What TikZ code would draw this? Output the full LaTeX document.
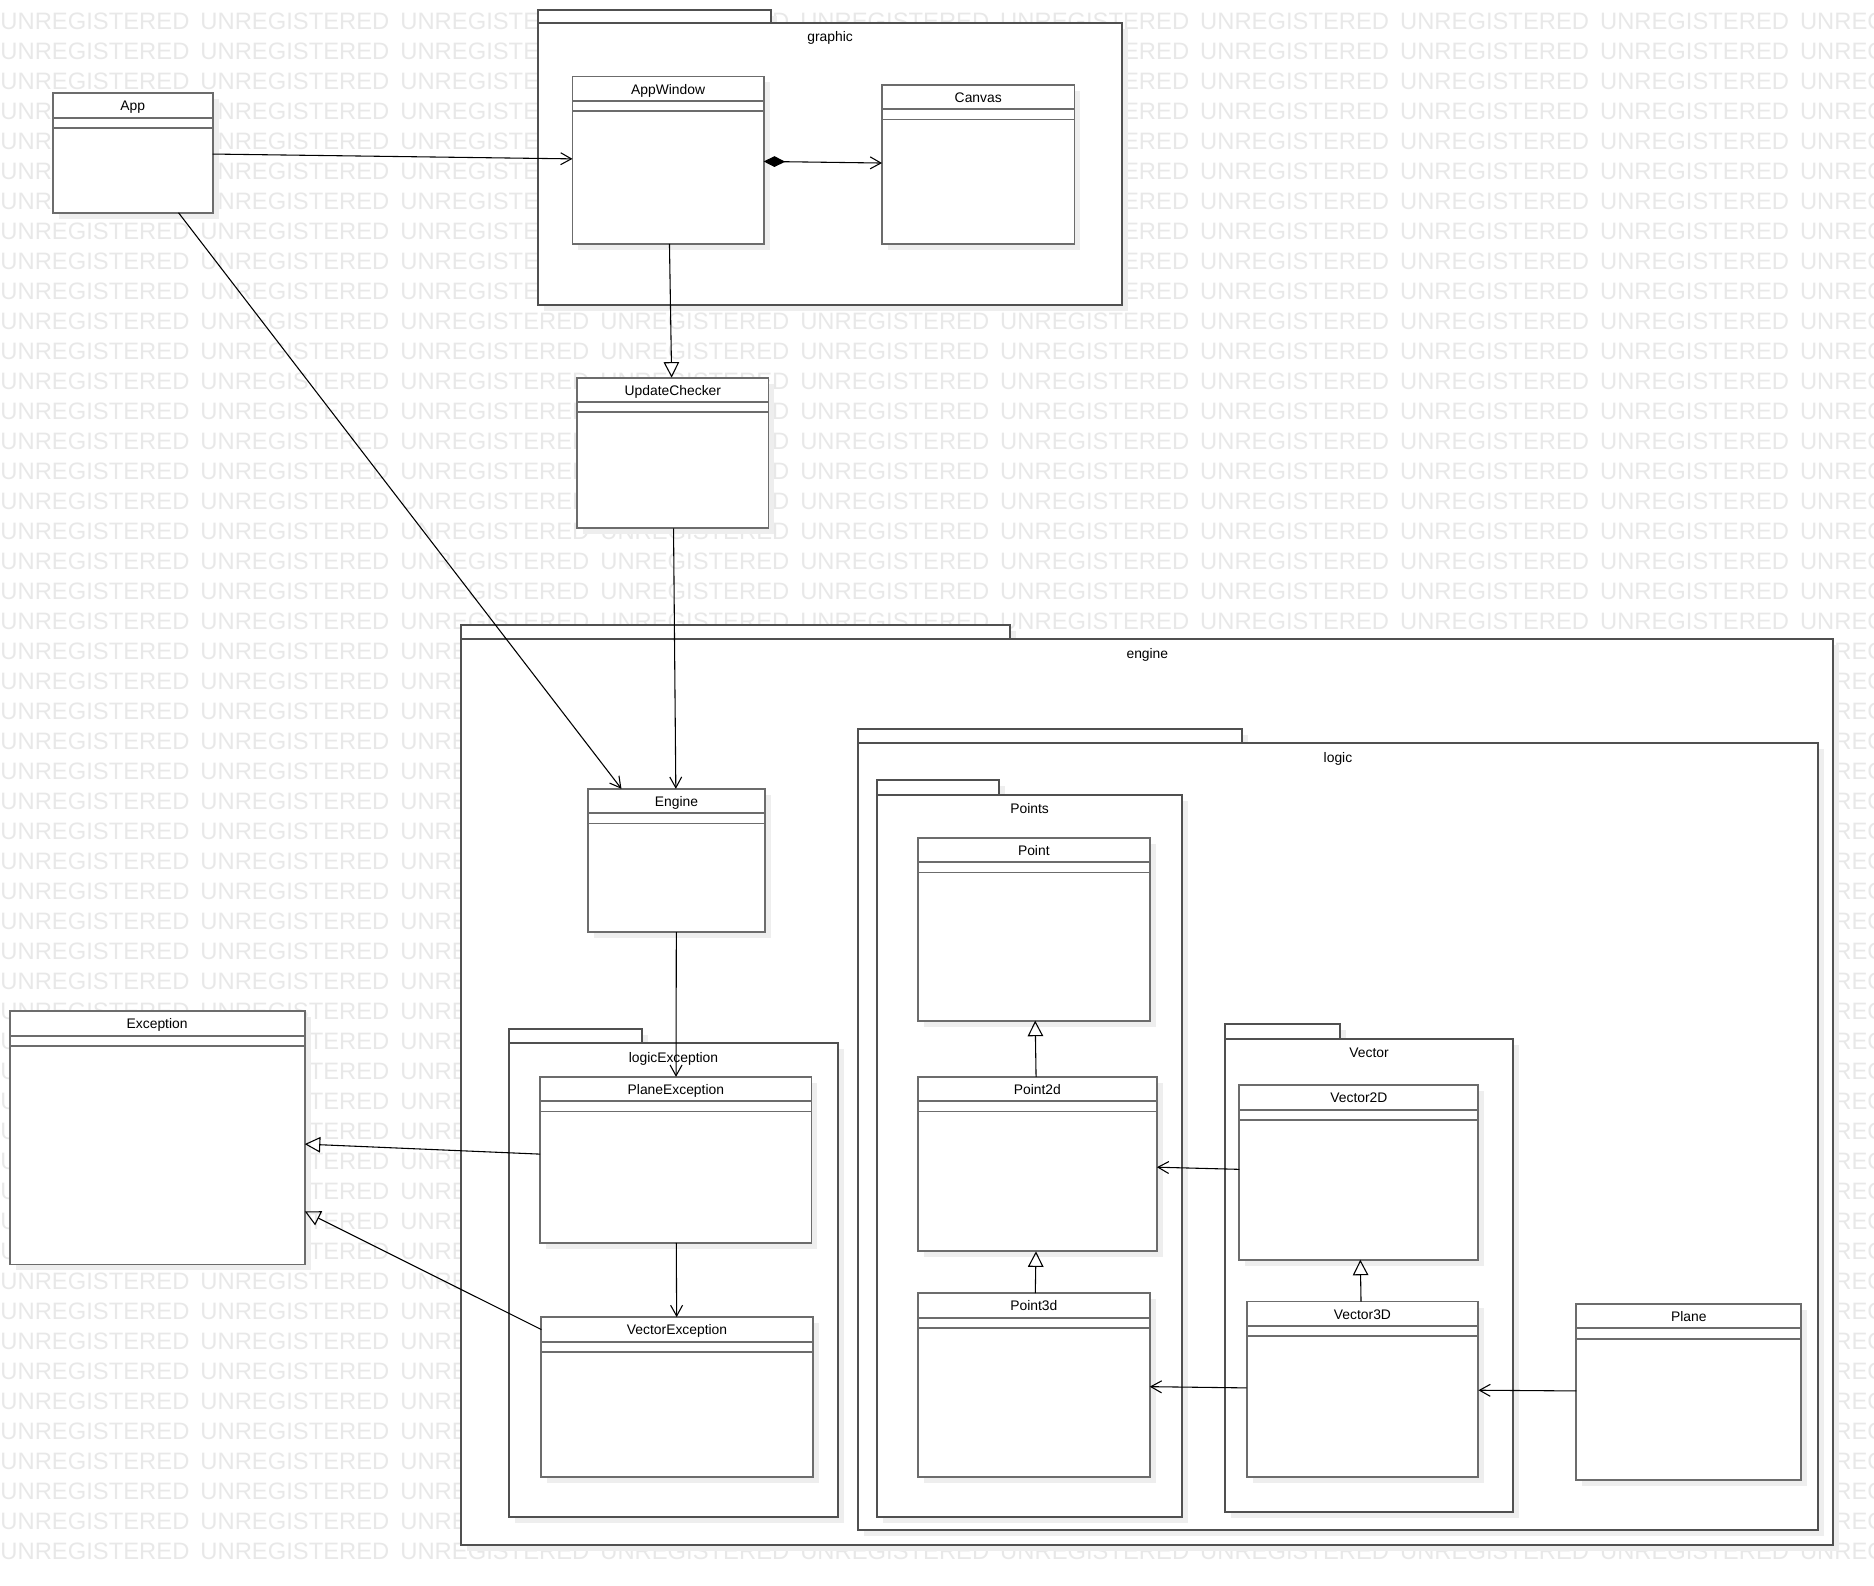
\documentclass[tikz,border=0pt]{standalone}
\usepackage{fontspec}
\setmainfont{Liberation Sans}
\usepackage{tikz}
\usetikzlibrary{arrows.meta,calc,fit,shadows}
\definecolor{boxgray}{RGB}{108,108,108}
\definecolor{pkggray}{RGB}{80,80,80}
\definecolor{shadowgray}{RGB}{238,238,238}
\definecolor{markgray}{RGB}{232,232,232}
\tikzset{
        wmark/.style = {anchor=west, inner sep=0pt, text=markgray,
            font=\fontsize{9.95}{12}\selectfont},
        classtitle/.style = {anchor=north, inner sep=0pt, yshift=-3pt,
            text height=4.2pt, text depth=1.2pt,
            font=\fontsize{5.8}{6}\selectfont},
        shade/.style = {drop shadow={shadow xshift=2.5pt, shadow yshift=-2.5pt,
            fill=shadowgray, opacity=1}},
        umlclass/.style = {draw=boxgray, fill=white, rectangle, line width=0.8pt,
            inner sep=0pt, outer sep=0pt, shade,
            label={[classtitle]north:#1}},
        pkg/.style = {draw=pkggray, fill=white, line width=0.8pt, shade},
        pkgbody/.style = {pkg, rectangle, inner sep=0pt, outer sep=0pt,
            label={[classtitle, yshift=-0.6pt]north:#1}},
        headline/.style = {draw=boxgray, line width=0.8pt},
        assoc/.style = {draw=black, line width=0.45pt,
            -{Straight Barb[length=4.5pt,width=5pt]}},
        gener/.style = {draw=black, line width=0.45pt,
            -{Triangle[open,length=6.5pt,width=6.5pt]}},
        compo/.style = {draw=black, line width=0.45pt,
            {Diamond[length=9pt,width=4.5pt]}-{Straight Barb[length=4.5pt,width=5pt]}},
    }
\begin{document}
\begin{tikzpicture}[x=0.5pt,y=-0.5pt]
    \useasboundingbox (0,0) rectangle (1568,1327);

    % watermark
    \foreach \r in {0,...,51}
        \foreach \c in {0,...,9}
            \node[wmark] (wm-\r-\c) at ({\c*167.3},{18+\r*25.1}) {UNREGISTERED};

    % Package graphic
    \draw[pkg] (450,8) rectangle (645,19);
    \node[pkgbody=graphic, fit={(450,19) (939,255)}] (graphic) {};
    % Package engine
    \draw[pkg] (386,523) rectangle (845,535);
    \node[pkgbody=engine, fit={(386,535) (1534,1293)}] (engine) {};
    % Package logic
    \draw[pkg] (718,610) rectangle (1039,622);
    \node[pkgbody=logic, fit={(718,622) (1521,1280)}] (logic) {};
    % Package Points
    \draw[pkg] (734,653) rectangle (836,665);
    \node[pkgbody=Points, fit={(734,665) (989,1269)}] (points) {};
    % Package Vector
    \draw[pkg] (1025,857) rectangle (1121,869);
    \node[pkgbody=Vector, fit={(1025,869) (1266,1265)}] (vector) {};
    % Package logicException
    \draw[pkg] (426,861) rectangle (537,873);
    \node[pkgbody=logicException, fit={(426,873) (701,1269)}] (logicexc) {};

    % Classes
    \node[umlclass=App, fit={(44,78) (178,178)}] (App) {};
    \node[umlclass=AppWindow, fit={(479,64) (639,204)}] (AppWindow) {};
    \node[umlclass=Canvas, fit={(738,71) (899,204)}] (Canvas) {};
    \node[umlclass=UpdateChecker, fit={(483,316) (643,442)}] (UpdateChecker) {};
    \node[umlclass=Engine, fit={(492,660) (640,780)}] (Engine) {};
    \node[umlclass=Exception, fit={(8,846) (255,1058)}] (Exception) {};
    \node[umlclass=PlaneException, fit={(452,901) (679,1040)}] (PlaneException) {};
    \node[umlclass=VectorException, fit={(453,1102) (680,1236)}] (VectorException) {};
    \node[umlclass=Point, fit={(768,701) (962,854)}] (Point) {};
    \node[umlclass=Point2d, fit={(768,901) (968,1047)}] (Point2d) {};
    \node[umlclass=Point3d, fit={(768,1082) (962,1236)}] (Point3d) {};
    \node[umlclass=Vector2D, fit={(1037,908) (1237,1054)}] (Vector2D) {};
    \node[umlclass=Vector3D, fit={(1043,1089) (1237,1236)}] (Vector3D) {};
    \node[umlclass=Plane, fit={(1319,1091) (1507,1238)}] (Plane) {};

    % header compartments
    \foreach \n in {App,AppWindow,Canvas,UpdateChecker,Engine,Exception,
        PlaneException,VectorException,Point,Point2d,Point3d,Vector2D,Vector3D,Plane}{
        \draw[headline] ($(\n.north west)+(0,20.5)$) -- ($(\n.north east)+(0,20.5)$);
        \draw[headline] ($(\n.north west)+(0,29)$) -- ($(\n.north east)+(0,29)$);
    }

    % Connectors
    \draw[assoc] (App) -- (AppWindow);
    \draw[compo] (AppWindow) -- (Canvas);
    \draw[gener] (AppWindow) -- (UpdateChecker);
    \draw[assoc] (App) -- (Engine);
    \draw[assoc] (UpdateChecker) -- (Engine);
    \draw[assoc] (Engine) -- (PlaneException);
    \draw[assoc] (PlaneException) -- (VectorException);
    \draw[gener] (PlaneException) -- (Exception);
    \draw[gener] (VectorException) -- (Exception);
    \draw[gener] (Point2d) -- (Point);
    \draw[gener] (Point3d) -- (Point2d);
    \draw[assoc] (Vector2D) -- (Point2d);
    \draw[gener] (Vector3D) -- (Vector2D);
    \draw[assoc] (Vector3D) -- (Point3d);
    \draw[assoc] (Plane) -- (Vector3D);

\end{tikzpicture}
\end{document}
